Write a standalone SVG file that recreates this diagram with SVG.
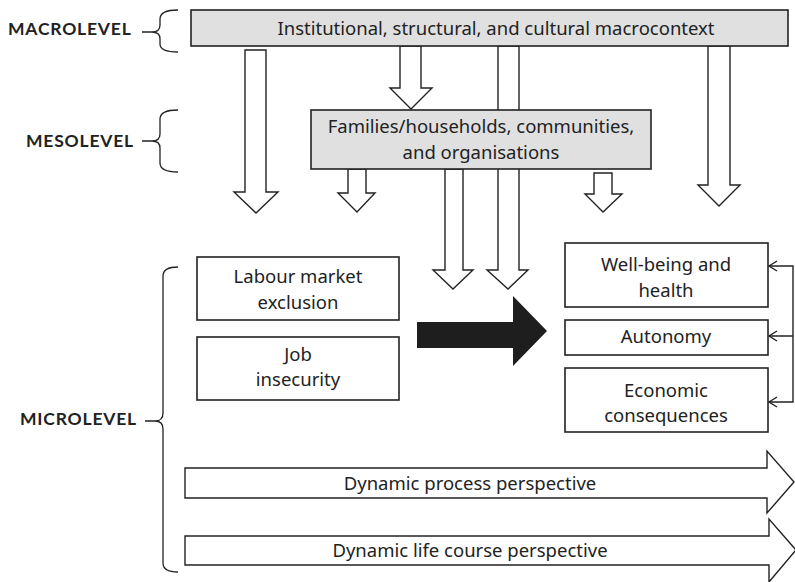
<svg xmlns="http://www.w3.org/2000/svg" width="795" height="582" viewBox="0 0 795 582">
<style>
.box{fill:#fff;stroke:#222;stroke-width:1.6}
.gbox{fill:#e0e0e0;stroke:#222;stroke-width:1.6}
.harrow{fill:#fff;stroke:#222;stroke-width:1.4;stroke-linejoin:miter}
.brace{fill:none;stroke:#222;stroke-width:1.3}
.t{font-family:"Noto Sans","Open Sans",sans-serif;font-size:18.5px;fill:#222;text-anchor:middle}
.lvl{font-family:"Lato","Noto Sans",sans-serif;font-weight:bold;font-size:17.5px;letter-spacing:0.8px;fill:#222}
.fb{fill:none;stroke:#222;stroke-width:1.4}
</style>
<rect width="795" height="582" fill="#fff"/>

<g id="connectors">
  <polygon class="harrow" points="245,50 266,50 266,192 278,192 256,213 234,192 245,192"/>
  <polygon class="harrow" points="400,46 421,46 421,88 432,88 411,109 390,88 400,88"/>
  <polygon class="harrow" points="498,46 519,46 519,270 528,270 508,289 487,270 498,270"/>
  <polygon class="harrow" points="445,169 463,169 463,270 473,270 453,289 433,270 445,270"/>
  <polygon class="harrow" points="348,169 366,169 366,193 375,193 357,212 338,193 348,193"/>
  <polygon class="harrow" points="594,173 612,173 612,194 622,194 603,212 585,194 594,194"/>
  <polygon class="harrow" points="708,46 730,46 730,185 740,185 719,206 698,185 708,185"/>
  <polygon fill="#1e1e1e" points="417,322 513,322 513,296 547,331 513,366 513,348 417,348"/>
  <path class="fb" d="M769,266 H793 V402 H769 M769,336 H793"/>
  <polyline class="fb" points="777,261 769,266 777,271"/>
  <polyline class="fb" points="777,331 769,336 777,341"/>
  <polyline class="fb" points="777,397 769,402 777,407"/>
</g>

<g id="macro">
  <rect class="gbox" x="191" y="10" width="597" height="36"/>
  <text class="t" x="496" y="35">Institutional, structural, and cultural macrocontext</text>
</g>

<g id="meso">
  <rect class="gbox" x="311" y="110" width="340" height="59"/>
  <text class="t" x="481" y="133">Families/households, communities,</text>
  <text class="t" x="481" y="159">and organisations</text>
</g>

<g id="labour">
  <rect class="box" x="197" y="257" width="202" height="63"/>
  <text class="t" x="298" y="283">Labour market</text>
  <text class="t" x="298" y="309">exclusion</text>
</g>
<g id="job">
  <rect class="box" x="197" y="337" width="202" height="63"/>
  <text class="t" x="298" y="361">Job</text>
  <text class="t" x="298" y="386">insecurity</text>
</g>

<g id="wellbeing">
  <rect class="box" x="565" y="243" width="203" height="64"/>
  <text class="t" x="666" y="271">Well-being and</text>
  <text class="t" x="666" y="297">health</text>
</g>
<g id="autonomy">
  <rect class="box" x="565" y="320" width="203" height="35"/>
  <text class="t" x="666" y="343">Autonomy</text>
</g>
<g id="economic">
  <rect class="box" x="565" y="368" width="203" height="64"/>
  <text class="t" x="666" y="397">Economic</text>
  <text class="t" x="666" y="422">consequences</text>
</g>

<g id="process">
  <polygon class="harrow" points="185,468 767,468 767,451 794,482 767,513 767,498 185,498"/>
  <text class="t" x="470" y="490">Dynamic process perspective</text>
</g>
<g id="lifecourse">
  <polygon class="harrow" points="185,536 769,536 769,519 796,550 769,582 769,565 185,565"/>
  <text class="t" x="470" y="557">Dynamic life course perspective</text>
</g>

<g id="macrolevel">
  <text class="lvl" x="8" y="35">MACROLEVEL</text>
  <path class="brace" d="M142,32 H152 M178,10 Q160,10 160,19 V25 Q160,32 152,32 Q160,32 160,39 V44 Q160,52 178,52"/>
</g>
<g id="mesolevel">
  <text class="lvl" x="26" y="147">MESOLEVEL</text>
  <path class="brace" d="M142,141 H152 M178,110 Q160,110 160,119 V134 Q160,141 152,141 Q160,141 160,148 V163 Q160,172 178,172"/>
</g>
<g id="microlevel">
  <text class="lvl" x="20" y="425">MICROLEVEL</text>
  <path class="brace" d="M145,421 H155 M178,267 Q163,267 163,276 V413 Q163,421 155,421 Q163,421 163,429 V563 Q163,572 178,572"/>
</g>
</svg>
